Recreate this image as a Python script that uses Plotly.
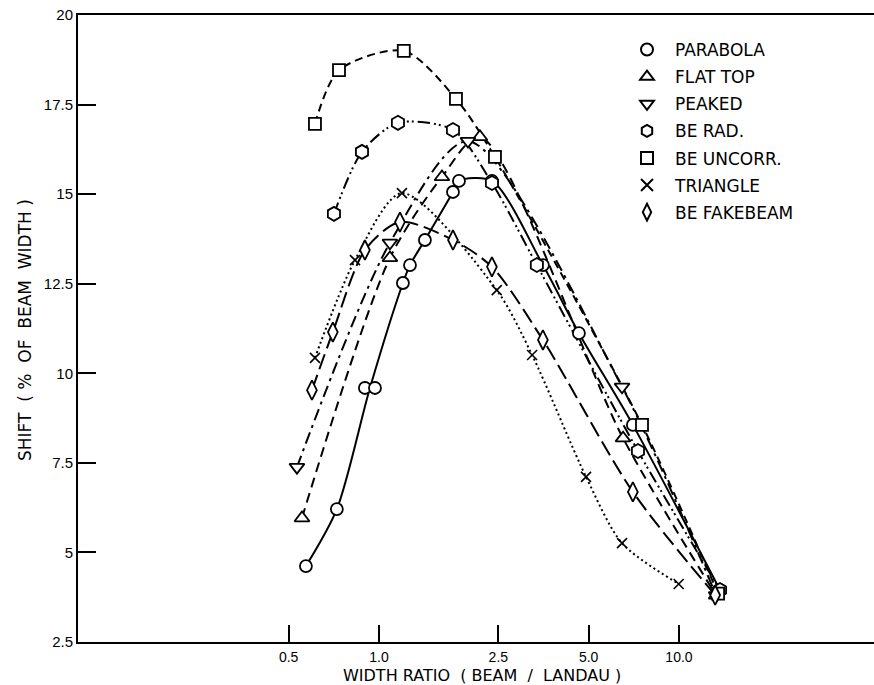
import math
import plotly.graph_objects as go

series_names = ["PARABOLA", "FLAT TOP", "PEAKED", "BE RAD.", "BE UNCORR.", "TRIANGLE", "BE FAKEBEAM"]

parabola_x = [0.571, 0.724, 0.898, 0.970, 1.202, 1.269, 1.423, 1.765, 1.848, 2.38, 3.52, 4.64, 7.02, 13.7]
parabola_y = [4.62, 6.21, 9.59, 9.59, 12.52, 13.02, 13.72, 15.06, 15.37, 15.37, 13.02, 11.12, 8.56, 3.95]

flattop_x = [0.554, 1.088, 1.622, 2.17, 6.51, 13.3]
flattop_y = [5.96, 13.22, 15.48, 16.6, 8.19, 3.80]

peaked_x = [0.533, 1.088, 1.98, 6.46, 13.3]
peaked_y = [7.38, 13.64, 16.48, 9.62, 3.80]

berad_x = [0.708, 0.878, 1.157, 1.765, 2.38, 3.36, 7.30, 13.7]
berad_y = [14.45, 16.18, 16.99, 16.79, 15.31, 13.02, 7.83, 3.95]

beuncorr_x = [0.612, 0.736, 1.21, 1.806, 2.436, 7.53, 13.5]
beuncorr_y = [16.96, 18.46, 19.0, 17.66, 16.04, 8.56, 3.85]

triangle_x = [0.612, 0.832, 1.193, 2.47, 3.24, 4.9, 6.46, 9.98]
triangle_y = [10.43, 13.16, 15.03, 12.32, 10.51, 7.11, 5.26, 4.12]

fakebeam_x = [0.598, 0.702, 0.898, 1.175, 1.765, 2.38, 3.52, 7.02, 13.2]
fakebeam_y = [9.53, 11.15, 13.44, 14.22, 13.72, 12.97, 10.93, 6.69, 3.81]

x_tick_vals = [0.5, 1.0, 2.5, 5.0, 10.0]
x_tick_text = ["0.5", "1.0", "2.5", "5.0", "10.0"]
y_tick_vals = [2.5, 5, 7.5, 10, 12.5, 15, 17.5, 20]
y_tick_text = ["2.5", "5", "7.5", "10", "12.5", "15", "17.5", "20"]

TICKFONT = "Liberation Sans, Arial, sans-serif"
LABELFONT = "DejaVu Sans, Verdana, sans-serif"
NB = "\u00a0"

styles = [
    dict(symbol="circle", dash="solid", size=12),
    dict(symbol="triangle-up", dash="10px,6px", size=13),
    dict(symbol="triangle-down", dash="12px,5px,3px,5px", size=13),
    dict(symbol="hexagon", dash="12px,4px,2px,3px,2px,4px", size=14),
    dict(symbol="square", dash="8px,5px", size=12),
    dict(symbol="x-thin", dash="2px,3px", size=10),
    dict(symbol="diamond-tall", dash="16px,6px", size=14),
]

data = [
    (parabola_x, parabola_y),
    (flattop_x, flattop_y),
    (peaked_x, peaked_y),
    (berad_x, berad_y),
    (beuncorr_x, beuncorr_y),
    (triangle_x, triangle_y),
    (fakebeam_x, fakebeam_y),
]


def merge_pairs(xs, ys):
    """Curve path: side-by-side points at equal height are drawn through their midpoint."""
    px, py = [], []
    i = 0
    while i < len(xs):
        if i + 1 < len(xs) and ys[i] == ys[i + 1] and xs[i + 1] / xs[i] < 1.1:
            px.append(math.sqrt(xs[i] * xs[i + 1]))
            py.append(ys[i])
            i += 2
        else:
            px.append(xs[i])
            py.append(ys[i])
            i += 1
    return px, py


fig = go.Figure()

for name, (xs, ys), st in zip(series_names, data, styles):
    lx, ly = merge_pairs(xs, ys)
    fig.add_trace(go.Scatter(
        x=lx, y=ly, mode="lines", name=name, showlegend=False, hoverinfo="skip",
        line=dict(color="black", width=2, dash=st["dash"], shape="spline", smoothing=0.8),
    ))

for i, (name, (xs, ys), st) in enumerate(zip(series_names, data, styles)):
    mw = 1.6 if st["symbol"] == "x-thin" else 1.8
    fig.add_trace(go.Scatter(
        x=xs, y=ys, mode="markers", name=name, legendgroup="g%d" % i,
        marker=dict(symbol=st["symbol"], size=st["size"], color="#ffffff", opacity=1,
                    line=dict(color="black", width=mw)),
    ))

# Plot area: page x 78..874, y 15..642 (body margin removed below).
fig.update_layout(
    width=874, height=685,
    margin=dict(l=78, r=0, t=15, b=43, autoexpand=False),
    paper_bgcolor="white", plot_bgcolor="white",
    font=dict(family=TICKFONT, size=15, color="black"),
    showlegend=True,
    legend=dict(
        x=(619 - 78) / 796, y=1 - (32 - 15) / 627, xanchor="left", yanchor="top",
        bgcolor="rgba(0,0,0,0)", borderwidth=0,
        font=dict(family=LABELFONT, size=17, color="black"),
        traceorder="grouped", tracegroupgap=2,
        itemsizing="constant", itemwidth=46,
    ),
    xaxis=dict(
        type="log", range=[-1.003, 1.65], automargin=False,
        tickmode="array", tickvals=x_tick_vals, ticktext=x_tick_text,
        ticks="inside", ticklen=17, tickwidth=2, tickcolor="black",
        showline=True, linecolor="black", linewidth=2, mirror=True,
        showgrid=False, zeroline=False, ticklabelstandoff=1,
        ticklabeloverflow="allow",
        tickfont=dict(family=TICKFONT, size=14, color="black"),
    ),
    yaxis=dict(
        range=[2.5, 20], automargin=False,
        tickmode="array", tickvals=y_tick_vals, ticktext=y_tick_text,
        ticks="inside", ticklen=18, tickwidth=2, tickcolor="black",
        showline=True, linecolor="black", linewidth=2, mirror=False,
        showgrid=False, zeroline=False, ticklabeloverflow="allow",
        tickfont=dict(family=TICKFONT, size=15, color="black"),
    ),
    annotations=[
        dict(text="WIDTH" + NB + "RATIO" + NB * 2 + "(" + NB + "BEAM" + NB * 2 + "/" + NB * 2 + "LANDAU" + NB + ")",
             xref="paper", yref="paper",
             x=(482 - 78) / 796, y=-(675 - 642) / 627, xanchor="center", yanchor="middle",
             showarrow=False, font=dict(family=LABELFONT, size=16, color="black")),
        dict(text="SHIFT" + NB * 2 + "(" + NB + "%" + NB * 2 + "OF" + NB * 2 + "BEAM" + NB * 2 + "WIDTH" + NB + ")",
             xref="paper", yref="paper",
             x=(25 - 78) / 796, y=1 - (330 - 15) / 627, xanchor="center", yanchor="middle",
             textangle=-90, showarrow=False, font=dict(family=LABELFONT, size=17, color="black")),
    ],
)

fig.write_html("out.html",
               config={"displayModeBar": False},
               post_script="document.body.style.margin='0';document.body.style.overflow='hidden';")
